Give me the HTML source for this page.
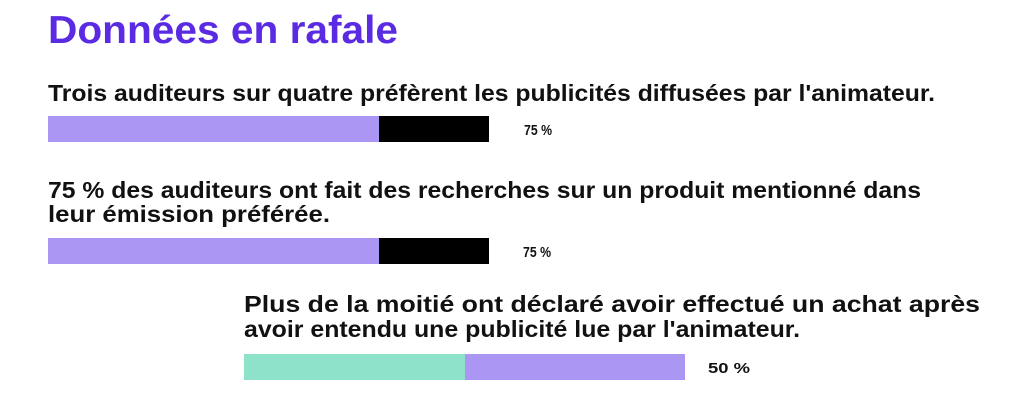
<!DOCTYPE html>
<html><head><meta charset="utf-8"><style>
html,body{margin:0;padding:0;background:#fff;width:1024px;height:410px;overflow:hidden}
svg text{font-family:"Liberation Sans","DejaVu Sans",sans-serif;font-weight:bold}
</style></head><body>
<svg width="1024" height="410" viewBox="0 0 1024 410">
<text x="48" y="43" font-size="39" fill="#5a2be2" textLength="350" lengthAdjust="spacingAndGlyphs">Données en rafale</text>
<text x="48" y="101" font-size="23" fill="#111" textLength="887" lengthAdjust="spacingAndGlyphs">Trois auditeurs sur quatre préfèrent les publicités diffusées par l'animateur.</text>
<rect x="48" y="116" width="331" height="26" fill="#ab97f3"/>
<rect x="379" y="116" width="110" height="26" fill="#000"/>
<text x="524" y="135" font-size="15" fill="#111" textLength="28" lengthAdjust="spacingAndGlyphs">75 %</text>
<text x="48" y="198" font-size="23" fill="#111" textLength="873" lengthAdjust="spacingAndGlyphs">75 % des auditeurs ont fait des recherches sur un produit mentionné dans</text>
<text x="48" y="222" font-size="23" fill="#111" textLength="282" lengthAdjust="spacingAndGlyphs">leur émission préférée.</text>
<rect x="48" y="238" width="331" height="26" fill="#ab97f3"/>
<rect x="379" y="238" width="110" height="26" fill="#000"/>
<text x="523" y="257" font-size="15" fill="#111" textLength="28" lengthAdjust="spacingAndGlyphs">75 %</text>
<text x="244" y="312" font-size="23" fill="#111" textLength="736" lengthAdjust="spacingAndGlyphs">Plus de la moitié ont déclaré avoir effectué un achat après</text>
<text x="244" y="337" font-size="23" fill="#111" textLength="556" lengthAdjust="spacingAndGlyphs">avoir entendu une publicité lue par l'animateur.</text>
<rect x="244" y="354" width="221" height="26" fill="#8ee2c9"/>
<rect x="465" y="354" width="220" height="26" fill="#ab97f3"/>
<text x="708" y="373" font-size="15" fill="#111" textLength="42" lengthAdjust="spacingAndGlyphs">50 %</text>
</svg>
</body></html>
